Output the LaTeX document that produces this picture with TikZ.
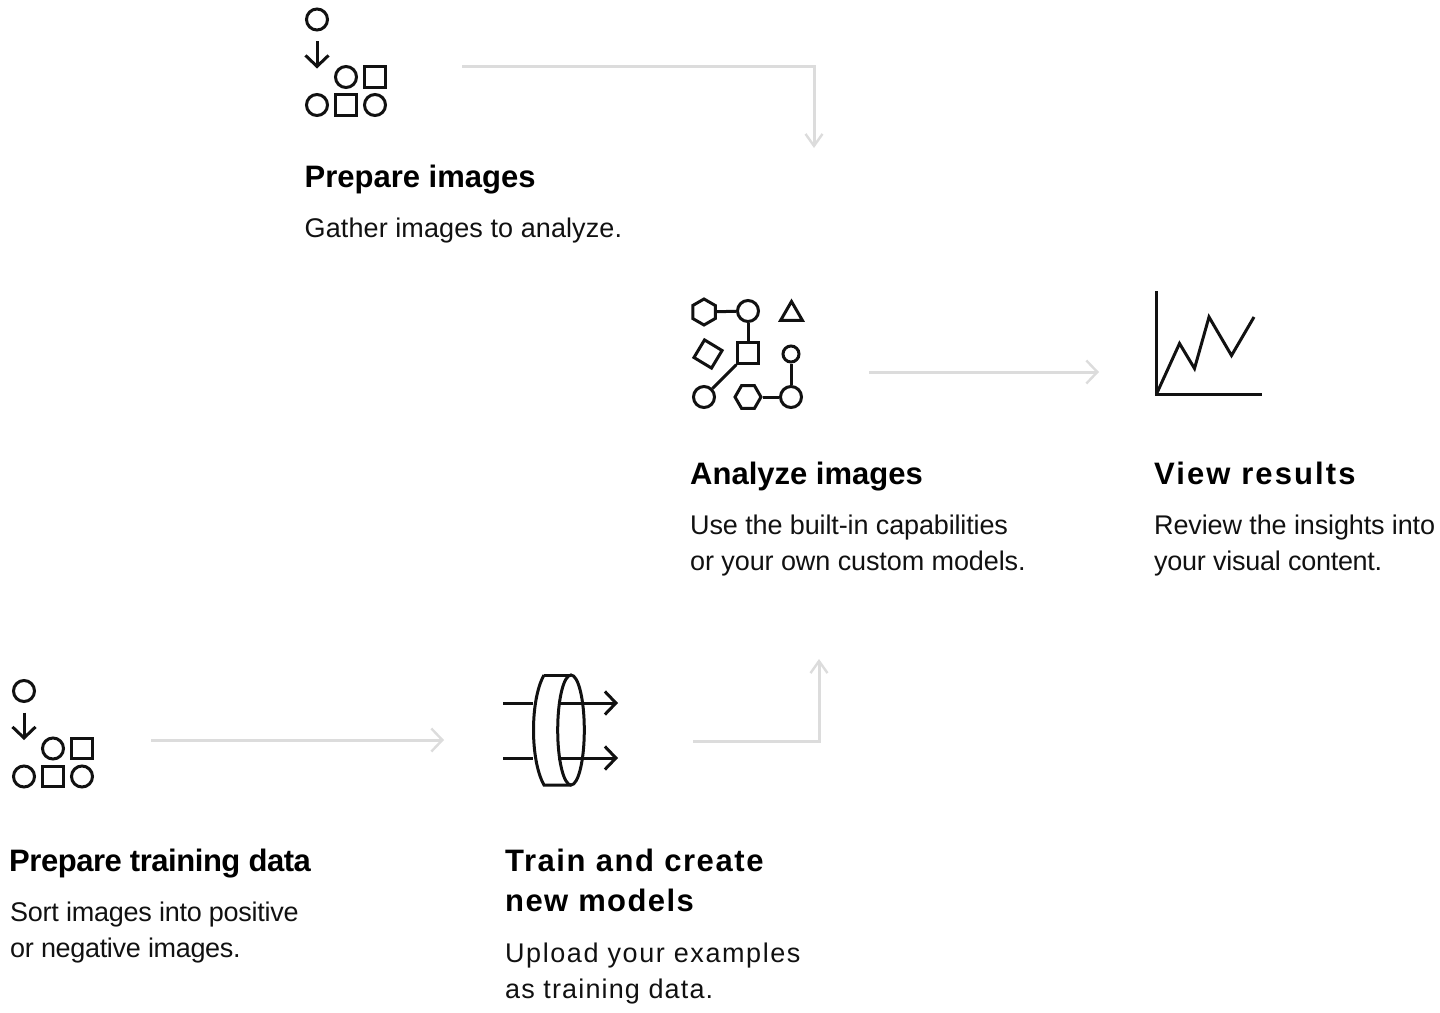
\documentclass[tikz,border=0pt]{standalone}
\usepackage{fontspec}
\setmainfont{Liberation Sans}
\usetikzlibrary{arrows.meta,shapes.geometric}
\definecolor{flowgray}{HTML}{DCDCDC}
\definecolor{inkblack}{HTML}{111111}
\newcommand{\tracked}[1]{\addfontfeature{LetterSpace=#1}}
\tikzset{
  flow/.style={draw=flowgray,line width=3pt,-{Straight Barb[length=11pt,width=23pt,line width=2.4pt]}},
  flowv/.style={draw=flowgray,line width=3pt,-{Straight Barb[length=12pt,width=17pt,line width=2.4pt]}},
  ink/.style={draw=inkblack,line width=3pt},
  inkhead/.style={ink,-{Straight Barb[length=11pt,width=23pt,line width=3pt]}},
  dot/.style={circle,ink,minimum size=21pt,inner sep=0pt},
  smalldot/.style={circle,ink,minimum size=16pt,inner sep=0pt},
  box/.style={rectangle,ink,minimum size=20.5pt,inner sep=0pt},
  hexa/.style={regular polygon,regular polygon sides=6,ink,minimum size=26pt,inner sep=0pt},
  head/.style={anchor=north west,inner sep=0pt,font=\fontsize{31}{40}\selectfont\bfseries,text=black,align=left},
  body/.style={anchor=north west,inner sep=0pt,font=\fontsize{27}{36}\selectfont,text=inkblack,align=left},
  prepicon/.pic={
    \node[dot] (-top) at (0,0) {};
    \coordinate (-from) at (0,21.5);
    \coordinate (-to) at (0,49);
    \draw[inkhead] (-from) -- (-to);
    \node[dot] (-a) at (29,57.5) {};
    \node[box] (-b) at (58,57.5) {};
    \node[dot] (-c) at (0,85.5) {};
    \node[box] (-d) at (29,85.5) {};
    \node[dot] (-e) at (58,85.5) {};
  }
}
\begin{document}
\begin{tikzpicture}[x=1pt,y=-1pt]
\useasboundingbox (0,0) rectangle (1440,1012);
% first row
\pic (prepa) at (317,19.5) {prepicon};
\coordinate (pa1) at (462,66);
\coordinate (pa2) at (814,148);
\draw[flowv] (pa1) -| (pa2);
\node[head] (prepahead) at (304.5,165) {Prepare images};
\node[body] (prepabody) at (304.5,218) {\tracked{0.4}Gather images to analyze.};
% analyze icon
\node[hexa,rotate=90] (hexa) at (704,312) {};
\node[dot] (topdot) at (748,311) {};
\node[box] (midbox) at (748,353) {};
\node[dot] (lowdot) at (704,397) {};
\node[hexa] (hexb) at (748,397) {};
\node[dot] (rightdot) at (791,397) {};
\node[smalldot] (tipdot) at (791,354) {};
\node[regular polygon,regular polygon sides=3,ink,minimum size=25pt,inner sep=0pt] (tri) at (791.5,314) {};
\node[box,rotate=-31] (tiltbox) at (708,354) {};
\draw[ink] (hexa) -- (topdot);
\draw[ink] (topdot) -- (midbox);
\draw[ink] (midbox.south west) -- (lowdot);
\draw[ink] (hexb) -- (rightdot);
\draw[ink] (rightdot) -- (tipdot);
\node[head] (anahead) at (690,462) {Analyze images};
\node[body] (anabody) at (690,515) {\tracked{-0.5}Use the built-in capabilities\\\tracked{-0.4}or your own custom models.};
\coordinate (pb1) at (869,372);
\coordinate (pb2) at (1099,372);
\draw[flow] (pb1) -- (pb2);
% chart
\coordinate (axt) at (1156.5,291);
\coordinate (axo) at (1156.5,394);
\coordinate (axr) at (1262,394);
\draw[ink] (axt) -- (axo) -- (axr);
\draw[ink] (axo) -- (1179.5,343.5) -- (1194.5,368.5) -- (1209,317) -- (1231.5,355.5) -- (1254,317);
\node[head] (viewhead) at (1154,462) {\tracked{6.8}View results};
\node[body] (viewbody) at (1154,515) {\tracked{-0.5}Review the insights into\\\tracked{-1}your visual content.};
% bottom row
\pic (prepb) at (24,691) {prepicon};
\coordinate (pc1) at (151,740);
\coordinate (pc2) at (444,740);
\draw[flow] (pc1) -- (pc2);
\node[head] (trainhead) at (9,849) {\tracked{-1.5}Prepare training data};
\node[body] (trainbody) at (10,902) {\tracked{-1}Sort images into positive\\\tracked{-1.2}or negative images.};
% lens
\draw[ink] (544,675) .. controls (530,700) and (530,760) .. (544,785) -- (571,785);
\draw[ink] (544,675) -- (571,675);
\draw[ink] (571,730) ellipse [x radius=13.3,y radius=55];
\coordinate (la1) at (503,703);
\coordinate (la2) at (533,703);
\coordinate (la3) at (558,703);
\coordinate (la4) at (618,703);
\coordinate (lb1) at (503,758);
\coordinate (lb2) at (533,758);
\coordinate (lb3) at (558,758);
\coordinate (lb4) at (618,758);
\draw[ink] (la1) -- (la2);
\draw[ink] (lb1) -- (lb2);
\draw[inkhead] (la3) -- (la4);
\draw[inkhead] (lb3) -- (lb4);
\coordinate (pd1) at (693,741);
\coordinate (pd2) at (819,659);
\draw[flowv] (pd1) -| (pd2);
\node[head] (newhead) at (505,849) {\tracked{5.1}Train and create\\\tracked{4.5}new models};
\node[body] (newbody) at (505,943) {\tracked{5.8}Upload your examples\\\tracked{4.2}as training data.};
\end{tikzpicture}
\end{document}
